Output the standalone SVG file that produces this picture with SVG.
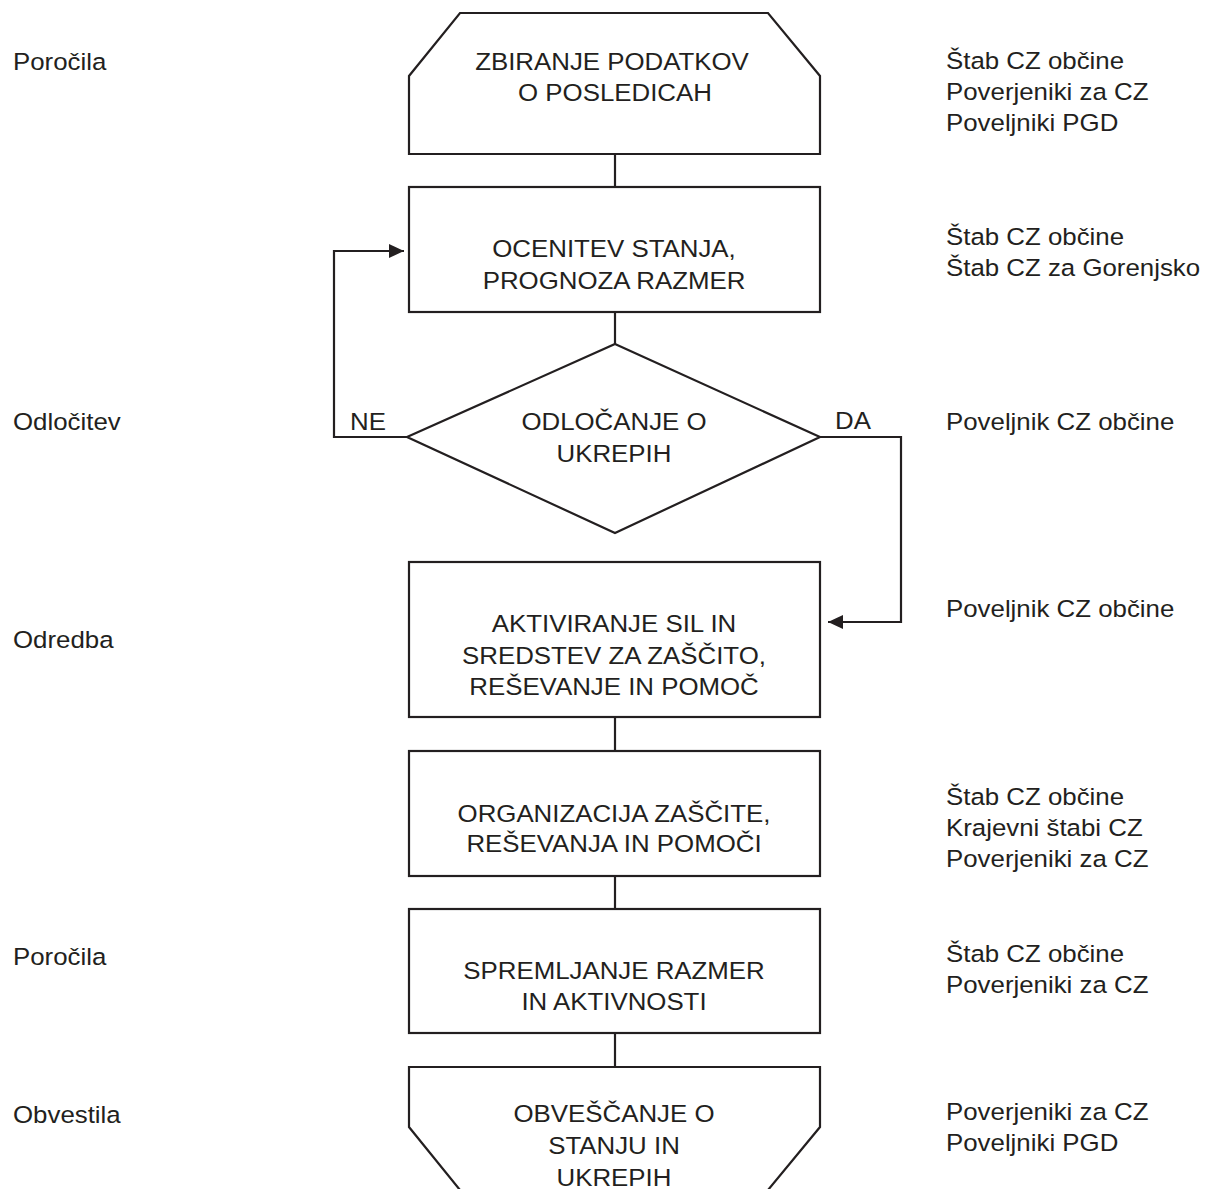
<svg xmlns="http://www.w3.org/2000/svg" width="1210" height="1189" viewBox="0 0 1210 1189">
<style>
.s{fill:none;stroke:#231f20;stroke-width:2.2;stroke-linejoin:miter}
.c{fill:none;stroke:#231f20;stroke-width:2.2}
text{font-family:"Liberation Sans",Arial,sans-serif;font-size:23.5px;fill:#231f20}
.m{text-anchor:middle}
</style>
<defs>
<marker id="ah" markerUnits="userSpaceOnUse" markerWidth="16" markerHeight="16" viewBox="0 0 16 16" refX="15" refY="8" orient="auto">
<path d="M0,1 L15,8 L0,15 Z" fill="#231f20"/>
</marker>
</defs>
<rect width="1210" height="1189" fill="#fff"/>

<g id="connectors">
<line class="c" x1="615" y1="154" x2="615" y2="187"/>
<line class="c" x1="615" y1="312" x2="615" y2="344"/>
<polyline class="c" points="407,437 334,437 334,251 404,251" marker-end="url(#ah)"/>
<polyline class="c" points="820,437 901,437 901,622 828,622" marker-end="url(#ah)"/>
<line class="c" x1="615" y1="717" x2="615" y2="751"/>
<line class="c" x1="615" y1="876" x2="615" y2="909"/>
<line class="c" x1="615" y1="1033" x2="615" y2="1067"/>
<text transform="matrix(1.1 0 0 1 350 430)">NE</text>
<text transform="matrix(1.1 0 0 1 835 429)">DA</text>
</g>

<g id="n1">
<polygon class="s" points="460,13 768,13 820,76 820,154 409,154 409,76"/>
<text class="m" transform="matrix(1.1 0 0 1 612 70)">ZBIRANJE PODATKOV</text>
<text class="m" transform="matrix(1.1 0 0 1 615 101)">O POSLEDICAH</text>
</g>

<g id="n2">
<rect class="s" x="409" y="187" width="411" height="125"/>
<text class="m" transform="matrix(1.1 0 0 1 614 257)">OCENITEV STANJA,</text>
<text class="m" transform="matrix(1.1 0 0 1 614 289)">PROGNOZA RAZMER</text>
</g>

<g id="n3">
<polygon class="s" points="615,344 820,437 615,533 407,437"/>
<text class="m" transform="matrix(1.1 0 0 1 614 430)">ODLOČANJE O</text>
<text class="m" transform="matrix(1.1 0 0 1 614 462)">UKREPIH</text>
</g>

<g id="n4">
<rect class="s" x="409" y="562" width="411" height="155"/>
<text class="m" transform="matrix(1.1 0 0 1 614 632)">AKTIVIRANJE SIL IN</text>
<text class="m" transform="matrix(1.1 0 0 1 614 664)">SREDSTEV ZA ZAŠČITO,</text>
<text class="m" transform="matrix(1.1 0 0 1 614 695)">REŠEVANJE IN POMOČ</text>
</g>

<g id="n5">
<rect class="s" x="409" y="751" width="411" height="125"/>
<text class="m" transform="matrix(1.1 0 0 1 614 822)">ORGANIZACIJA ZAŠČITE,</text>
<text class="m" transform="matrix(1.1 0 0 1 614 852)">REŠEVANJA IN POMOČI</text>
</g>

<g id="n6">
<rect class="s" x="409" y="909" width="411" height="124"/>
<text class="m" transform="matrix(1.1 0 0 1 614 979)">SPREMLJANJE RAZMER</text>
<text class="m" transform="matrix(1.1 0 0 1 614 1010)">IN AKTIVNOSTI</text>
</g>

<g id="n7">
<polygon class="s" points="409,1067 820,1067 820,1127 768,1190 460,1190 409,1127"/>
<text class="m" transform="matrix(1.1 0 0 1 614 1122)">OBVEŠČANJE O</text>
<text class="m" transform="matrix(1.1 0 0 1 614 1154)">STANJU IN</text>
<text class="m" transform="matrix(1.1 0 0 1 614 1186)">UKREPIH</text>
</g>

<g id="left-labels">
<text transform="matrix(1.1 0 0 1 13 70)">Poročila</text>
<text transform="matrix(1.1 0 0 1 13 430)">Odločitev</text>
<text transform="matrix(1.1 0 0 1 13 648)">Odredba</text>
<text transform="matrix(1.1 0 0 1 13 965)">Poročila</text>
<text transform="matrix(1.1 0 0 1 13 1123)">Obvestila</text>
</g>

<g id="right-labels">
<text transform="matrix(1.1 0 0 1 946 69)">Štab CZ občine</text>
<text transform="matrix(1.1 0 0 1 946 100)">Poverjeniki za CZ</text>
<text transform="matrix(1.1 0 0 1 946 131)">Poveljniki PGD</text>
<text transform="matrix(1.1 0 0 1 946 245)">Štab CZ občine</text>
<text transform="matrix(1.1 0 0 1 946 276)">Štab CZ za Gorenjsko</text>
<text transform="matrix(1.1 0 0 1 946 430)">Poveljnik CZ občine</text>
<text transform="matrix(1.1 0 0 1 946 617)">Poveljnik CZ občine</text>
<text transform="matrix(1.1 0 0 1 946 805)">Štab CZ občine</text>
<text transform="matrix(1.1 0 0 1 946 836)">Krajevni štabi CZ</text>
<text transform="matrix(1.1 0 0 1 946 867)">Poverjeniki za CZ</text>
<text transform="matrix(1.1 0 0 1 946 962)">Štab CZ občine</text>
<text transform="matrix(1.1 0 0 1 946 993)">Poverjeniki za CZ</text>
<text transform="matrix(1.1 0 0 1 946 1120)">Poverjeniki za CZ</text>
<text transform="matrix(1.1 0 0 1 946 1151)">Poveljniki PGD</text>
</g>
</svg>
